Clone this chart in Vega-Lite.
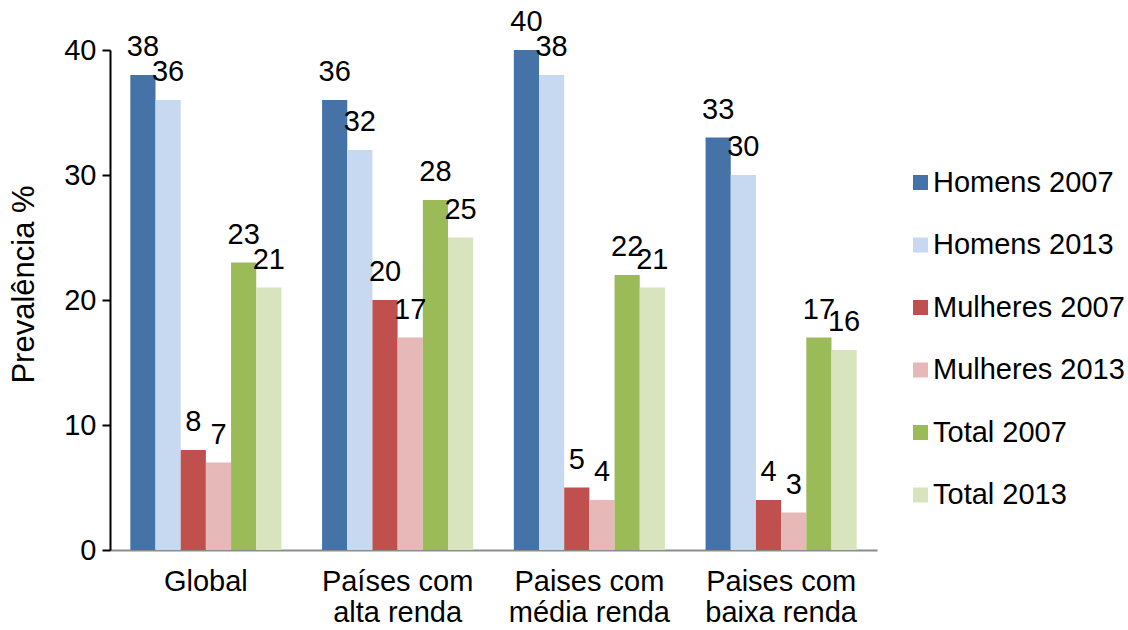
{
  "$schema": "https://vega.github.io/schema/vega-lite/v6.json",
  "width": 767,
  "height": 500,
  "autosize": {"type": "none"},
  "padding": {"left": 110, "top": 50, "right": 251, "bottom": 80},
  "background": "white",
  "config": {
    "font": "Liberation Sans",
    "view": {"stroke": null},
    "text": {"font": "Liberation Sans"}
  },
  "data": {
    "values": [
      {"grupo": "Global", "serie": "Homens 2007", "valor": 38},
      {"grupo": "Global", "serie": "Homens 2013", "valor": 36},
      {"grupo": "Global", "serie": "Mulheres 2007", "valor": 8},
      {"grupo": "Global", "serie": "Mulheres 2013", "valor": 7},
      {"grupo": "Global", "serie": "Total 2007", "valor": 23},
      {"grupo": "Global", "serie": "Total 2013", "valor": 21},
      {"grupo": "Países com|alta renda", "serie": "Homens 2007", "valor": 36},
      {"grupo": "Países com|alta renda", "serie": "Homens 2013", "valor": 32},
      {"grupo": "Países com|alta renda", "serie": "Mulheres 2007", "valor": 20},
      {"grupo": "Países com|alta renda", "serie": "Mulheres 2013", "valor": 17},
      {"grupo": "Países com|alta renda", "serie": "Total 2007", "valor": 28},
      {"grupo": "Países com|alta renda", "serie": "Total 2013", "valor": 25},
      {"grupo": "Paises com|média renda", "serie": "Homens 2007", "valor": 40},
      {"grupo": "Paises com|média renda", "serie": "Homens 2013", "valor": 38},
      {"grupo": "Paises com|média renda", "serie": "Mulheres 2007", "valor": 5},
      {"grupo": "Paises com|média renda", "serie": "Mulheres 2013", "valor": 4},
      {"grupo": "Paises com|média renda", "serie": "Total 2007", "valor": 22},
      {"grupo": "Paises com|média renda", "serie": "Total 2013", "valor": 21},
      {"grupo": "Paises com|baixa renda", "serie": "Homens 2007", "valor": 33},
      {"grupo": "Paises com|baixa renda", "serie": "Homens 2013", "valor": 30},
      {"grupo": "Paises com|baixa renda", "serie": "Mulheres 2007", "valor": 4},
      {"grupo": "Paises com|baixa renda", "serie": "Mulheres 2013", "valor": 3},
      {"grupo": "Paises com|baixa renda", "serie": "Total 2007", "valor": 17},
      {"grupo": "Paises com|baixa renda", "serie": "Total 2013", "valor": 16}
    ]
  },
  "encoding": {
    "x": {
      "field": "grupo",
      "type": "nominal",
      "sort": null,
      "scale": {"paddingInner": 0.212, "paddingOuter": 0.106},
      "axis": {
        "title": null,
        "labelAngle": 0,
        "labelExpr": "split(datum.value, '|')",
        "labelFontSize": 29,
        "labelColor": "black",
        "labelLineHeight": 31,
        "labelPadding": 17,
        "ticks": false,
        "domainColor": "#8c8c8c",
        "domainWidth": 2
      }
    },
    "xOffset": {
      "field": "serie",
      "type": "nominal",
      "sort": ["Homens 2007", "Homens 2013", "Mulheres 2007", "Mulheres 2013", "Total 2007", "Total 2013"],
      "scale": {"paddingInner": 0, "paddingOuter": 0}
    },
    "y": {
      "field": "valor",
      "type": "quantitative",
      "scale": {"domain": [0, 40], "nice": false},
      "axis": {
        "title": "Prevalência %",
        "titleFontSize": 31,
        "titleFontWeight": "normal",
        "titleColor": "black",
        "titleX": -86,
        "titleY": 234,
        "titleAngle": -90,
        "titleAlign": "center",
        "titleBaseline": "middle",
        "values": [0, 10, 20, 30, 40],
        "grid": false,
        "labelFontSize": 29,
        "labelColor": "black",
        "labelPadding": 6,
        "tickSize": 8,
        "tickColor": "black",
        "tickWidth": 2,
        "domainColor": "black",
        "domainWidth": 2
      }
    }
  },
  "layer": [
    {
      "mark": {"type": "bar"},
      "encoding": {
        "color": {
          "field": "serie",
          "type": "nominal",
          "scale": {
            "domain": ["Homens 2007", "Homens 2013", "Mulheres 2007", "Mulheres 2013", "Total 2007", "Total 2013"],
            "range": ["#4572A7", "#C6D9F1", "#C0504D", "#E6B9B8", "#9BBB59", "#D7E4BD"]
          },
          "legend": {
            "title": null,
            "orient": "none",
            "legendX": 796,
            "legendY": 118,
            "padding": 0,
            "symbolType": "square",
            "symbolSize": 225,
            "symbolStrokeWidth": 0,
            "labelFontSize": 29,
            "labelColor": "black",
            "labelOffset": -2,
            "rowPadding": 32.5,
            "labelLimit": 300
          }
        }
      }
    },
    {
      "mark": {"type": "text", "fontSize": 29, "color": "black", "baseline": "alphabetic", "dy": -19},
      "encoding": {
        "text": {"field": "valor", "type": "quantitative"}
      }
    }
  ]
}
